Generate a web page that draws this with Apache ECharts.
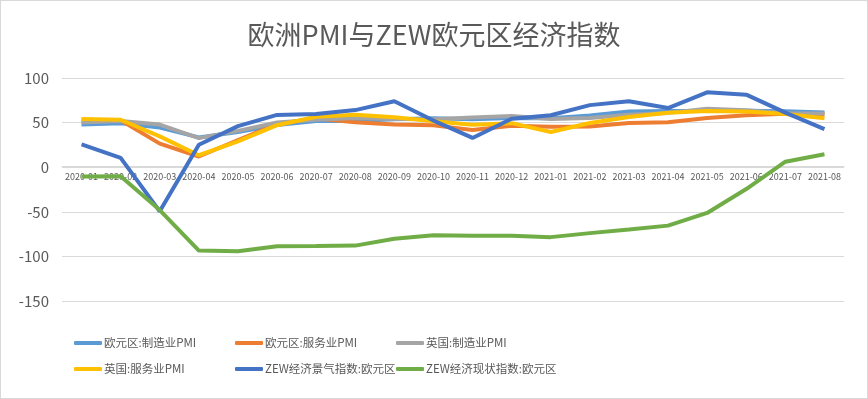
<!DOCTYPE html>
<html>
<head>
<meta charset="utf-8">
<script src="https://cdn.jsdelivr.net/npm/echarts@6/dist/echarts.min.js"></script>
<style>
  html, body { margin: 0; padding: 0; background: #fff; }
  #main { width: 868px; height: 399px; box-sizing: border-box; border: 1px solid #d9d9d9; }
</style>
</head>
<body>
<div id="main"></div>
<script>
var months = ['2020-01', '2020-02', '2020-03', '2020-04', '2020-05', '2020-06', '2020-07', '2020-08', '2020-09', '2020-10',
  '2020-11', '2020-12', '2021-01', '2021-02', '2021-03', '2021-04', '2021-05', '2021-06', '2021-07', '2021-08'];

var euMfg = [47.9, 49.2, 44.5, 33.4, 39.4, 47.4, 51.8, 51.7, 53.7, 54.8, 53.8, 55.2, 54.8, 57.9, 62.5, 62.9, 63.1, 63.4, 62.8, 61.4];
var euSvc = [52.5, 52.6, 26.4, 12.0, 30.5, 48.3, 54.7, 50.5, 48.0, 46.9, 41.7, 46.4, 45.4, 45.7, 49.6, 50.5, 55.2, 58.3, 59.8, 59.0];
var ukMfg = [50.0, 51.7, 47.8, 32.6, 40.7, 50.1, 53.3, 55.2, 54.1, 53.7, 55.6, 57.5, 54.1, 55.1, 58.9, 60.9, 65.6, 63.9, 60.4, 60.3];
var ukSvc = [53.9, 53.2, 34.5, 13.4, 29.0, 47.1, 56.5, 58.8, 56.1, 51.4, 47.6, 49.4, 39.5, 49.5, 56.3, 61.0, 62.9, 62.4, 59.6, 55.0];
var zewSentiment = [25.6, 10.4, -49.5, 25.2, 46.0, 58.6, 59.6, 64.0, 73.9, 52.3, 32.8, 54.4, 58.3, 69.6, 74.0, 66.3, 84.0, 81.3, 61.2, 42.7];
var zewCurrent = [-10.3, -10.2, -48.0, -93.5, -94.3, -88.7, -88.4, -87.9, -80.2, -76.4, -76.8, -76.8, -78.4, -73.9, -69.8, -65.5, -51.3, -24.5, 6.2, 14.6];

var names = ['欧元区:制造业PMI', '欧元区:服务业PMI', '英国:制造业PMI', '英国:服务业PMI', 'ZEW经济景气指数:欧元区', 'ZEW经济现状指数:欧元区'];
var colors = ['#5b9bd5', '#ed7d31', '#a5a5a5', '#ffc000', '#4472c4', '#70ad47'];
var values = [euMfg, euSvc, ukMfg, ukSvc, zewSentiment, zewCurrent];

var font = '"Noto Sans CJK SC", "Noto Sans", sans-serif';

var myChart = echarts.init(document.getElementById('main'));

// 三列图例，每列两项
function legendCol(items, left) {
  return {
    orient: 'vertical',
    left: left,
    top: 335,
    padding: 0,
    itemGap: 12,
    itemWidth: 28,
    itemHeight: 4,
    icon: 'roundRect',
    data: items,
    textStyle: { color: '#595959', fontSize: 11.5, lineHeight: 14, fontFamily: font, padding: [0, 0, 0, -3] }
  };
}

var option = {
  animation: false,
  color: colors,
  title: {
    text: '欧洲PMI与ZEW欧元区经济指数',
    left: 'center',
    top: 15,
    textStyle: { color: '#595959', fontSize: 27, fontWeight: 'normal', fontFamily: font }
  },
  legend: [
    legendCol([names[0], names[3]], 73),
    legendCol([names[1], names[4]], 234),
    legendCol([names[2], names[5]], 395)
  ],
  grid: { left: 61, right: 23, top: 77, bottom: 97 },
  xAxis: {
    type: 'category',
    data: months,
    offset: -135, // 轴放到0的位置
    axisLine: { onZero: false, lineStyle: { color: '#d9d9d9' } },
    axisTick: { lineStyle: { color: '#d9d9d9' }, length: 4 },
    axisLabel: { color: '#595959', fontSize: 9, fontFamily: font, interval: 0, margin: 6 }
  },
  yAxis: {
    type: 'value',
    min: -150,
    max: 100,
    interval: 50,
    axisLine: { show: false },
    axisTick: { show: false },
    splitLine: { lineStyle: { color: '#d9d9d9' } },
    axisLabel: { color: '#595959', fontSize: 15, fontFamily: font, margin: 13 }
  },
  series: names.map(function (n, i) {
    return {
      name: n,
      type: 'line',
      data: values[i],
      showSymbol: false,
      lineStyle: { width: 4 }
    };
  })
};

myChart.setOption(option);
</script>
</body>
</html>
